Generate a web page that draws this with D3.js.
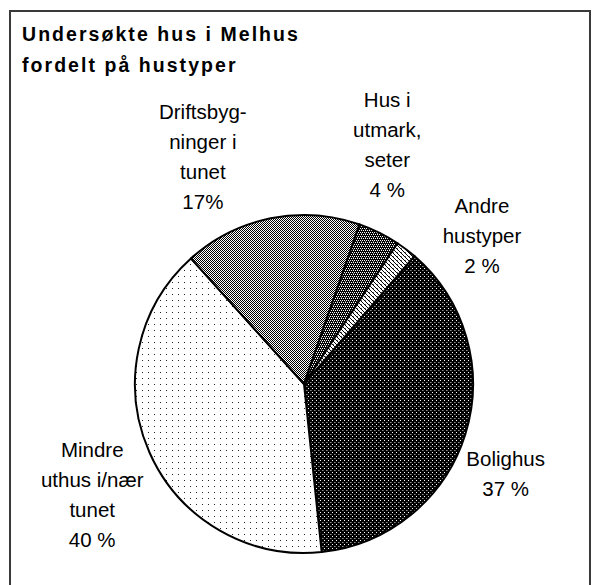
<!DOCTYPE html>
<html>
<head>
<meta charset="utf-8">
<script src="https://cdn.jsdelivr.net/npm/d3@7"></script>
<style>
  html, body { margin: 0; padding: 0; background: #fff; }
  svg { display: block; }
  text { font-family: "Liberation Sans", Arial, sans-serif; fill: #000; }
</style>
</head>
<body>
<svg id="chart" width="598" height="585"></svg>
<script>
// Pie of examined houses in Melhus, by house type.

const categories = ['Bolighus', 'Mindre uthus i/nær tunet', 'Driftsbygninger i tunet', 'Hus i utmark, seter', 'Andre hustyper'];
const values = [37, 40, 17, 4, 2];
const labelLines = [
  ['Bolighus', '37 %'],
  ['Mindre', 'uthus i/nær', 'tunet', '40 %'],
  ['Driftsbyg-', 'ninger i', 'tunet', '17%'],
  ['Hus i', 'utmark,', 'seter', '4 %'],
  ['Andre', 'hustyper', '2 %']
];
const titleLines = ['Undersøkte hus i Melhus', 'fordelt på hustyper'];

// layout
const cx = 304, cy = 384, R = 169;
const startDeg = 40.8;
const labelR = 183;
const lineH = 30;
// Excel nudges labels apart so they don't collide (degrees / px)
const labelShift = [7.5, -2.8, -14, -5.3, 13.7];
const labelPad = [0, 3, 9, 14, 7];
const patternIds = ['p-bolig', 'p-mindre', 'p-drift', 'p-utmark', 'p-andre'];

const svg = d3.select('#chart');
const defs = svg.append('defs');

// bitmap-ish fill patterns like old Excel b/w charts
function addPattern(id, size, bg, pixels) {
  const p = defs.append('pattern')
    .attr('id', id)
    .attr('patternUnits', 'userSpaceOnUse')
    .attr('width', size).attr('height', size);
  p.append('rect').attr('width', size).attr('height', size).attr('fill', bg);
  pixels.forEach(([x, y, c]) => {
    p.append('rect').attr('x', x).attr('y', y).attr('width', 1).attr('height', 1)
      .attr('fill', c).attr('shape-rendering', 'crispEdges');
  });
}
addPattern('p-bolig', 4, '#000', [[0, 0, '#fff'], [2, 2, '#888'], [3, 2, '#555']]);
addPattern('p-mindre', 6, '#fff', [[0, 0, '#222']]);
addPattern('p-drift', 4, '#fff', [[0, 0, '#000'], [2, 0, '#000'], [1, 1, '#000'], [3, 1, '#000'],
  [0, 2, '#000'], [2, 2, '#000'], [1, 3, '#000'], [3, 3, '#000']]);
addPattern('p-utmark', 4, '#000', [[0, 0, '#fff'], [2, 0, '#fff'], [1, 2, '#fff'], [3, 2, '#fff'], [1, 1, '#777']]);
addPattern('p-andre', 4, '#fff', [[0, 0, '#000'], [1, 1, '#000'], [2, 2, '#000'], [3, 3, '#000'], [1, 0, '#666']]);

// frame
svg.append('rect')
  .attr('x', 10).attr('y', 11)
  .attr('width', 580).attr('height', 600)
  .attr('fill', 'none')
  .attr('stroke', '#3a3a3a')
  .attr('stroke-width', 2);

// title
svg.append('g').selectAll('text').data(titleLines).join('text')
  .attr('x', 22)
  .attr('y', (d, i) => 41 + i * 31)
  .attr('font-size', 19.5)
  .attr('font-weight', 'bold')
  .attr('letter-spacing', 2.05)
  .text((d) => d);

const rad = (deg) => deg * Math.PI / 180;

const pie = d3.pie()
  .sort(null)
  .value((d) => d)
  .startAngle(rad(startDeg))
  .endAngle(rad(startDeg) + 2 * Math.PI);

const arcs = pie(values);
const arc = d3.arc().innerRadius(0).outerRadius(R);

const g = svg.append('g').attr('transform', `translate(${cx},${cy})`);

g.selectAll('path').data(arcs).join('path')
  .attr('d', arc)
  .attr('fill', (d, i) => `url(#${patternIds[i]})`)
  .attr('stroke', '#000')
  .attr('stroke-width', 2)
  .attr('stroke-linejoin', 'round');

// labels
const labels = g.selectAll('g.label').data(arcs).join('g').attr('class', 'label');

labels.each(function (d, i) {
  const sel = d3.select(this);
  const lines = labelLines[i];
  const t = sel.selectAll('text').data(lines).join('text')
    .attr('font-size', 20.5)
    .attr('text-anchor', 'middle')
    .text((s) => s);
  let w = 0;
  t.each(function () { w = Math.max(w, this.getComputedTextLength()); });
  const h = lines.length * lineH;
  const a = (d.startAngle + d.endAngle) / 2 + rad(labelShift[i]);
  const r = labelR + labelPad[i];
  const sx = Math.sin(a), sy = -Math.cos(a);
  const bx = (r + w / 2) * sx;
  const by = (r + h / 2) * sy;
  t.attr('x', bx)
    .attr('y', (s, j) => by + (j - (lines.length - 1) / 2) * lineH + 7.5);
});
</script>
</body>
</html>
